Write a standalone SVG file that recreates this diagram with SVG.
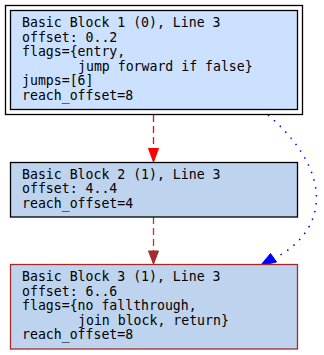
<svg xmlns="http://www.w3.org/2000/svg" width="324" height="355" viewBox="0 0 324 355">
  <style>
    .lbl { font-family: "DejaVu Sans Mono", "Liberation Mono", monospace; font-size: 13.2px; fill: #000; }
    .box { stroke-width: 1.3; }
  </style>
  <rect width="324" height="355" fill="#fff"/>

  <g id="connectors">
    <!-- block 1 -> block 2 -->
    <line x1="153.5" y1="115" x2="153.5" y2="149" stroke="#ff0000" stroke-width="1.3" stroke-dasharray="7,4"/>
    <polygon points="148.5,148.5 158.5,148.5 153.5,162" fill="#ff0000" stroke="#ff0000" stroke-width="1"/>
    <!-- block 2 -> block 3 -->
    <line x1="153.5" y1="217" x2="153.5" y2="251" stroke="#d03030" stroke-width="1.3" stroke-dasharray="7,4"/>
    <polygon points="148.5,251 158.5,251 153.5,264" fill="#a52a2a" stroke="#a52a2a" stroke-width="1"/>
    <!-- block 1 -> block 3 (jump) -->
    <path d="M268,115 C300,142 330,185 310,225 C302,240 290,250 275,258" fill="none" stroke="#0000ff" stroke-width="1.5" stroke-dasharray="1.5,6.5"/>
    <polygon points="260.5,265.5 270.5,253.5 276.5,262" fill="#0000ff" stroke="#0000ff" stroke-width="1"/>
  </g>

  <g id="block1">
    <rect x="5.5" y="5.5" width="297" height="109" fill="none" stroke="#000" class="box"/>
    <rect x="10.5" y="10.5" width="287" height="99" fill="#cce0ff" stroke="#000" class="box"/>
    <text class="lbl" x="22" y="27">Basic Block 1 (0), Line 3</text>
    <text class="lbl" x="22" y="41.5">offset: 0..2</text>
    <text class="lbl" x="22" y="56">flags={entry,</text>
    <text class="lbl" x="78" y="70.5">jump forward if false}</text>
    <text class="lbl" x="22" y="85">jumps=[6]</text>
    <text class="lbl" x="22" y="99.5">reach_offset=8</text>
  </g>

  <g id="block2">
    <rect x="10.5" y="162.5" width="287" height="54.5" fill="#bed3ee" stroke="#000" class="box"/>
    <text class="lbl" x="22" y="178.5">Basic Block 2 (1), Line 3</text>
    <text class="lbl" x="22" y="193">offset: 4..4</text>
    <text class="lbl" x="22" y="207.5">reach_offset=4</text>
  </g>

  <g id="block3">
    <rect x="10.5" y="264.5" width="287" height="84.5" fill="#bed3ee" stroke="#a52a2a" class="box"/>
    <text class="lbl" x="22" y="281">Basic Block 3 (1), Line 3</text>
    <text class="lbl" x="22" y="295.5">offset: 6..6</text>
    <text class="lbl" x="22" y="310">flags={no fallthrough,</text>
    <text class="lbl" x="78" y="324.5">join block, return}</text>
    <text class="lbl" x="22" y="339">reach_offset=8</text>
  </g>
</svg>
